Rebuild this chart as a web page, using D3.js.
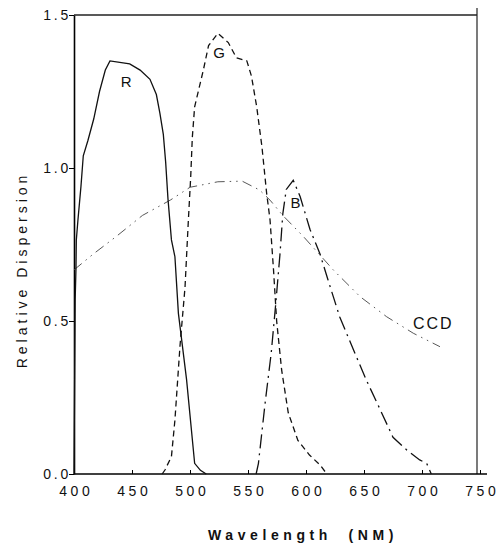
<!doctype html>
<html lang="en">
    <head>
        <meta charset="utf-8">
        <title>Relative Dispersion</title>
        <style>
            body { margin: 0; background: #fff; }
            text { font-family: "Liberation Sans", "DejaVu Sans", sans-serif; fill: #111; }
        </style>
    </head>
    <body>
        <script src="https://d3js.org/d3.v7.min.js"></script>
        <script>
            // curves: [wavelength nm, relative dispersion]
            var rCurve = [[400, 0.0], [401, 0.57], [401.7, 0.67], [402, 0.765], [403.4, 0.83], [406, 0.94],
                          [408, 1.04], [412, 1.09], [417, 1.16], [422, 1.25], [427, 1.32], [431, 1.35],
                          [448, 1.34], [457, 1.32], [465.5, 1.29], [471, 1.24], [474, 1.18], [477, 1.11],
                          [479, 1.02], [481, 0.90], [484, 0.765], [487, 0.71], [490, 0.525], [497, 0.31],
                          [504, 0.035], [509, 0.012], [514, 0.0]];
            var gCurve = [[476, 0.0], [478.4, 0.013], [484, 0.057], [487, 0.176], [491.4, 0.42], [495.7, 0.61],
                          [498.6, 0.83], [500.6, 0.97], [502, 1.10], [504, 1.20], [511.5, 1.32], [516, 1.40],
                          [524, 1.44], [533, 1.41], [540, 1.36], [549, 1.35], [553, 1.30], [557.5, 1.20],
                          [562, 1.07], [566, 0.92], [569, 0.83], [572, 0.667], [574.7, 0.50], [579, 0.34],
                          [584.7, 0.20], [593, 0.11], [603, 0.062], [612, 0.03], [618, 0.0]];
            var bCurve = [[557, 0.0], [559, 0.035], [564.7, 0.23], [570, 0.395], [574, 0.56], [577.6, 0.72],
                          [580, 0.85], [583, 0.93], [589, 0.96], [595, 0.906], [603.4, 0.80], [612, 0.72],
                          [619, 0.634], [629, 0.514], [641, 0.405], [652, 0.307], [664, 0.21], [675, 0.12],
                          [687, 0.078], [698, 0.046], [704, 0.035], [708, 0.0]];
            var ccdCurve = [[400, 0.667], [417, 0.72], [436, 0.775], [459, 0.845], [483, 0.895], [500, 0.937],
                            [524, 0.955], [545, 0.957], [560, 0.928], [569, 0.895], [580, 0.845], [598, 0.775],
                            [623.5, 0.667], [646.5, 0.58], [669.5, 0.514], [692.5, 0.46], [715.5, 0.416]];
            var xTicks = [400, 450, 500, 550, 600, 650, 700, 750];
            var yTicks = [0.0, 0.5, 1.0, 1.5];
            var curveLabels = [
                {text: "R", w: 445, v: 1.265},
                {text: "G", w: 525, v: 1.36},
                {text: "B", w: 591, v: 0.87}
            ];

            var width = 504, height = 544;
            var x = d3.scaleLinear().domain([400, 750]).range([74, 480]);
            var y = d3.scaleLinear().domain([0, 1.5]).range([474, 15]);

            var svg = d3.select("body").append("svg")
                        .attr("width", width)
                        .attr("height", height);

            // frame: top and right borders
            svg.append("line").attr("x1", 74).attr("x2", 477).attr("y1", 15).attr("y2", 15)
                .attr("stroke", "#222").attr("stroke-width", 1.4);
            svg.append("line").attr("x1", 477).attr("x2", 477).attr("y1", 8).attr("y2", 474)
                .attr("stroke", "#222").attr("stroke-width", 1.2);

            // axes
            var xAxis = svg.append("g")
                .attr("transform", "translate(0," + y(0) + ")")
                .call(d3.axisBottom(x).tickValues(xTicks).tickSizeInner(-4).tickSizeOuter(0)
                        .tickFormat(d3.format("d")));
            xAxis.select(".domain").attr("d", "M74,0H487").attr("stroke-width", 1.6);
            xAxis.selectAll(".tick text").attr("y", 12).attr("dx", 1.75)
                .attr("font-size", 14).attr("letter-spacing", 3.5);

            var yAxis = svg.append("g")
                .attr("transform", "translate(" + x(400) + ",0)")
                .call(d3.axisLeft(y).tickValues(yTicks).tickSizeInner(5).tickSizeOuter(0)
                        .tickFormat(d3.format(".1f")));
            yAxis.select(".domain").attr("stroke-width", 1.6);
            yAxis.selectAll(".tick text").attr("font-size", 14).attr("letter-spacing", 2.8).attr("x", -3);

            var line = d3.line()
                .x(function(d) { return x(d[0]); })
                .y(function(d) { return y(d[1]); });

            var styles = [
                {data: ccdCurve, dash: "10,5,1.5,5,1.5,5", width: 0.9, color: "#444"},
                {data: rCurve, dash: null, width: 1.3, color: "#111"},
                {data: gCurve, dash: "6,4", width: 1.3, color: "#111"},
                {data: bCurve, dash: "14,5,2,5", width: 1.3, color: "#111"}
            ];
            styles.forEach(function(s) {
                svg.append("path")
                    .datum(s.data)
                    .attr("fill", "none")
                    .attr("stroke", s.color)
                    .attr("stroke-width", s.width)
                    .attr("stroke-dasharray", s.dash)
                    .attr("d", line);
            });

            svg.selectAll(".curve-label")
                .data(curveLabels)
                .enter().append("text")
                .attr("class", "curve-label")
                .attr("x", function(d) { return x(d.w); })
                .attr("y", function(d) { return y(d.v); })
                .attr("text-anchor", "middle")
                .attr("font-size", 15)
                .text(function(d) { return d.text; });

            svg.append("text")
                .attr("x", 413).attr("y", 329)
                .attr("font-size", 16).attr("letter-spacing", 2)
                .text("CCD");

            svg.append("text")
                .attr("x", 303).attr("y", 540)
                .attr("text-anchor", "middle")
                .attr("font-size", 14).attr("font-weight", "bold").attr("letter-spacing", 4.6)
                .attr("word-spacing", 8)
                .text("Wavelength (NM)");

            svg.append("text")
                .attr("transform", "translate(27,270) rotate(-90)")
                .attr("text-anchor", "middle")
                .attr("font-size", 14).attr("letter-spacing", 4)
                .text("Relative Dispersion");
        </script>
    </body>
</html>
